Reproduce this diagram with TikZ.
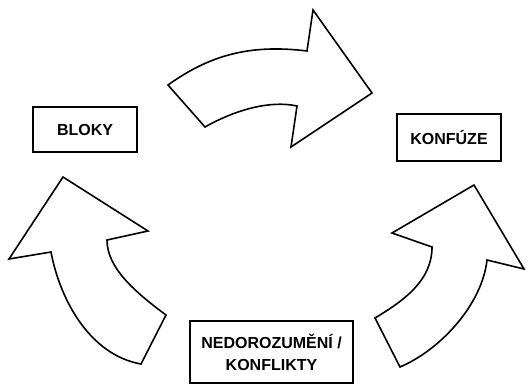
\documentclass[tikz,border=0pt]{standalone}
\usepackage{fontspec}
\setsansfont{Liberation Sans}
\usepackage{tikz}
\usetikzlibrary{positioning}

\begin{document}
\begin{tikzpicture}[x=1pt, y=-1pt, thick,
    every node/.style={align=center, font=\sffamily\bfseries\fontsize{16}{22}\selectfont},
    box/.style={draw, line width=1.8pt, inner sep=0pt},
    bigarrow/.style={draw, fill=white, line width=1.6pt, line join=miter}]
\useasboundingbox (0,0) rectangle (526,385);
                                % boxes
                                \node[box, minimum width=104pt, minimum height=45pt] (bloky) at (85,129.5) {BLOKY};
                                \node[box, minimum width=104pt, minimum height=47pt] (konfuze) at (449,137.5) {KONF\'UZE};
                                \node[box, minimum width=163pt, minimum height=62pt] (konflikty) at (271.5,352) {NEDOROZUM\v{E}N\'I /\\KONFLIKTY};
                                % arrows
                                \draw[bigarrow] (168,85) .. controls (210,55) and (250,44) .. (307,51)
                                    -- (313,10) -- (372,93) -- (291,147) -- (297,106)
                                    .. controls (270,100) and (235,110) .. (205,127) -- cycle;
                                \draw[bigarrow] (63,177) -- (148,231) -- (107,240)
                                    .. controls (107,268) and (135,292) .. (166,315) -- (141,364)
                                    .. controls (90,355) and (60,300) .. (51,252) -- (9,259) -- cycle;
                                \draw[bigarrow] (474,185) -- (524,269) -- (487,260)
                                    .. controls (482,305) and (440,350) .. (400,367) -- (375,318)
                                    .. controls (405,300) and (432,280) .. (432,247) -- (392,233) -- cycle;
                            \end{tikzpicture}
\end{document}
